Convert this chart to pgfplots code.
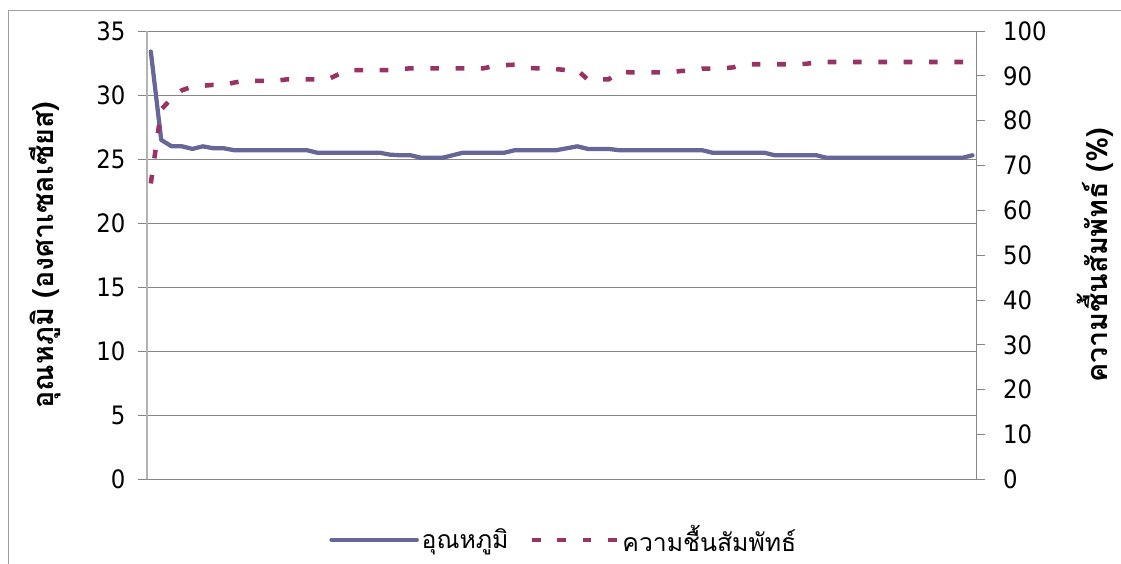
\documentclass[border=0pt]{standalone}
\usepackage{pgfplots}
\pgfplotsset{compat=1.18}
\usepackage{pgfplotstable}
\usepackage{fontspec}
\setmainfont{DejaVu Sans}
\newfontfamily\tickfont{DejaVu Sans Condensed}
\newfontfamily\thaifont[Script=Thai]{Loma}
\definecolor{tempc}{HTML}{666699}
\definecolor{humc}{HTML}{993366}
\definecolor{gridc}{HTML}{868686}
\definecolor{laxc}{HTML}{B4B4B4}

\pgfplotstableread{
x t h
1 33.4 66.0
2 26.5 82.5
3 26.0 85.0
4 26.0 86.8
5 25.8 87.6
6 26.0 87.8
7 25.85 88.0
8 25.85 88.0
9 25.7 88.5
10 25.7 88.9
11 25.7 88.9
12 25.7 88.9
13 25.7 88.9
14 25.7 89.2
15 25.7 89.2
16 25.7 89.2
17 25.5 89.2
18 25.5 89.2
19 25.5 90.3
20 25.5 91.3
21 25.5 91.3
22 25.5 91.3
23 25.5 91.3
24 25.35 91.3
25 25.3 91.5
26 25.3 91.7
27 25.1 91.7
28 25.1 91.7
29 25.1 91.7
30 25.3 91.7
31 25.5 91.7
32 25.5 91.7
33 25.5 91.7
34 25.5 92.2
35 25.5 92.4
36 25.7 92.5
37 25.7 91.8
38 25.7 91.7
39 25.7 91.7
40 25.7 91.5
41 25.85 91.3
42 26.0 91.3
43 25.8 89.2
44 25.8 89.2
45 25.8 89.2
46 25.7 90.9
47 25.7 90.8
48 25.7 90.8
49 25.7 90.8
50 25.7 90.8
51 25.7 90.8
52 25.7 91.1
53 25.7 91.1
54 25.7 91.6
55 25.5 91.6
56 25.5 91.7
57 25.5 91.9
58 25.5 92.6
59 25.5 92.6
60 25.5 92.6
61 25.3 92.6
62 25.3 92.6
63 25.3 92.6
64 25.3 92.7
65 25.3 93.0
66 25.1 93.1
67 25.1 93.1
68 25.1 93.1
69 25.1 93.1
70 25.1 93.1
71 25.1 93.1
72 25.1 93.1
73 25.1 93.1
74 25.1 93.1
75 25.1 93.1
76 25.1 93.1
77 25.1 93.1
78 25.1 93.1
79 25.1 93.1
80 25.3 93.1
}\datatab

\begin{document}
\begin{tikzpicture}
\path[use as bounding box] (-110.0pt,-63.5pt) rectangle (730.75pt,359.5pt);
\draw[gridc!80, line width=0.75pt] (-103.3pt,-63.5pt) -- (-103.3pt,351.25pt) -- (730.75pt,351.25pt);
\pgfplotsset{
  common/.style={
    scale only axis, width=622.5pt, height=336.2pt,
    xmin=0.6, xmax=80.4,
    tick align=outside, major tick length=6.5pt,
    tick label style={font=\tickfont\fontsize{19}{21}\selectfont},
    /pgf/number format/assume math mode=true,
    clip=false,
  },
}
\begin{axis}[common,
  ymin=0, ymax=35, ytick={0,5,...,35},
  axis y line*=left, axis x line*=bottom,
  xtick=\empty,
  yticklabel style={xshift=-6pt},
  ymajorgrids, grid style={draw=gridc, line width=0.75pt},
  y axis line style={draw=laxc, line width=1.5pt},
  x axis line style={draw=gridc, line width=0.75pt},
  ytick style={draw=gridc, line width=0.75pt},
  ylabel={\thaifont\bfseries\fontsize{21.5}{23}\selectfont อุณหภูมิ (องศาเซลเซียส)},
  ylabel style={at={(axis description cs:-0.1226,0.5)}, anchor=center},
]
\addplot[tempc, line width=3.2pt, line join=round, line cap=round] table[x=x, y=t] {\datatab};
\end{axis}
\begin{axis}[common,
  ymin=0, ymax=100, ytick={0,10,...,100},
  axis y line*=right, axis x line=none,
  yticklabel style={xshift=9.75pt},
  y axis line style={draw=gridc, line width=0.75pt},
  ytick style={draw=gridc, line width=0.75pt},
  ylabel={\thaifont\bfseries\fontsize{21.5}{23}\selectfont ความชื้นสัมพัทธ์ (\%)},
  ylabel style={at={(axis description cs:1.1425,0.5)}, anchor=center},
  legend style={at={(axis description cs:0.503,-0.135)}, anchor=center, draw=none,
    font=\thaifont\fontsize{18.6}{21}\selectfont, legend columns=2,
    /tikz/every even column/.append style={column sep=14pt}},
  legend image code/.code={\draw[#1] (0pt,0pt) -- (64pt,0pt);},
]
\addlegendimage{tempc, line width=3.2pt, line cap=round}
\addlegendentry{อุณหภูมิ}
\addplot[humc, line width=3.4pt, dash pattern=on 6.5pt off 12.5pt] table[x=x, y=h] {\datatab};
\addlegendentry{ความชื้นสัมพัทธ์}
\end{axis}
\end{tikzpicture}
\end{document}
